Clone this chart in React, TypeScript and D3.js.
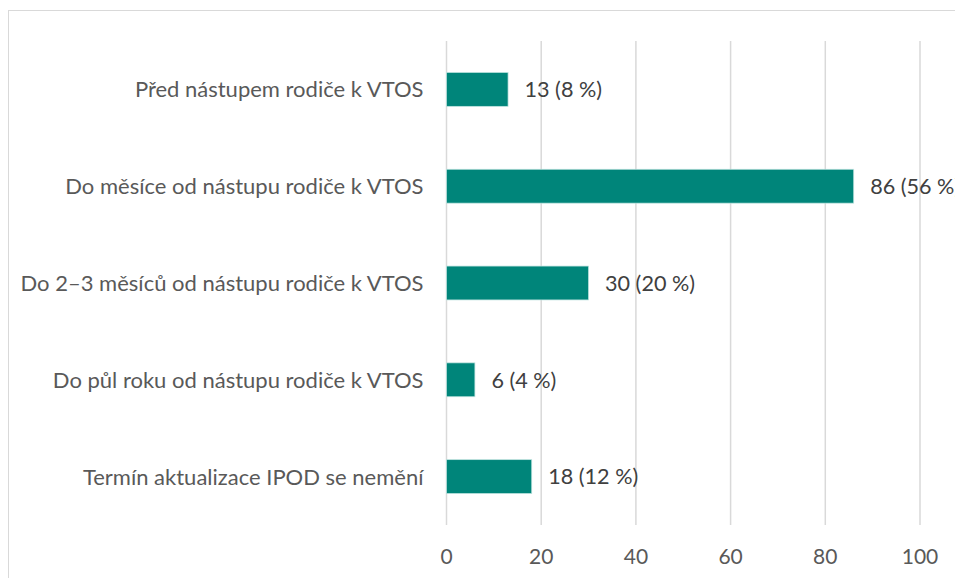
import * as d3 from "d3";
import { useEffect, useRef } from "react";

const categories = [
  "Před nástupem rodiče k VTOS",
  "Do měsíce od nástupu rodiče k VTOS",
  "Do 2–3 měsíců od nástupu rodiče k VTOS",
  "Do půl roku od nástupu rodiče k VTOS",
  "Termín aktualizace IPOD se nemění",
];
const counts = [13, 86, 30, 6, 18];
const shares = [8, 56, 20, 4, 12];
const ticks = [0, 20, 40, 60, 80, 100];

export default function App() {
  const ref = useRef<SVGSVGElement | null>(null);

  useEffect(() => {
    if (!ref.current) return;
    const root = d3.select(ref.current);
    root.selectAll("*").remove();
    const svg = root.append("g").attr("transform", "translate(8,8)");

    const font = "Lato, 'Open Sans', sans-serif";
    const textColor = "#595959";

    // frame (runs past the visible right/bottom edge, as in the crop)
    svg.append("rect")
      .attr("x", 0.5).attr("y", 2.5)
      .attr("width", 1000).attr("height", 700)
      .attr("fill", "white").attr("stroke", "#d9d9d9");

    const x = d3.scaleLinear().domain([0, 100]).range([438.5, 912]);
    const y = d3.scaleBand<string>().domain(categories).range([33, 517]).paddingInner(0.65).paddingOuter(0.325);

    // gridlines
    svg.append("g")
      .selectAll("line")
      .data(ticks)
      .join("line")
      .attr("x1", (d) => x(d)).attr("x2", (d) => x(d))
      .attr("y1", 33).attr("y2", 517)
      .attr("stroke", "#d9d9d9").attr("stroke-width", 1.5);

    // bars
    svg.append("g")
      .selectAll("rect")
      .data(counts)
      .join("rect")
      .attr("x", x(0))
      .attr("y", (_, i) => y(categories[i])!)
      .attr("width", (d) => x(d) - x(0))
      .attr("height", y.bandwidth())
      .attr("fill", "#00857a")
      .attr("stroke", "#bfe3df").attr("stroke-width", 0.75);

    // value labels
    svg.append("g")
      .selectAll("text")
      .data(counts)
      .join("text")
      .attr("x", (d) => x(d) + 16.5)
      .attr("y", (_, i) => y(categories[i])! + y.bandwidth() / 2)
      .attr("dy", "0.36em")
      .attr("font-family", font).attr("font-size", 21.6)
      .attr("fill", "#404040")
      .text((d, i) => `${d} (${shares[i]} %)`);

    // category labels
    svg.append("g")
      .selectAll("text")
      .data(categories)
      .join("text")
      .attr("x", x(0) - 23)
      .attr("y", (d) => y(d)! + y.bandwidth() / 2)
      .attr("dy", "0.36em")
      .attr("text-anchor", "end")
      .attr("font-family", font).attr("font-size", 22)
      .attr("fill", textColor)
      .text((d) => d);

    // x tick labels
    svg.append("g")
      .selectAll("text")
      .data(ticks)
      .join("text")
      .attr("x", (d) => x(d))
      .attr("y", 548)
      .attr("dy", "0.36em")
      .attr("text-anchor", "middle")
      .attr("font-family", font).attr("font-size", 21)
      .attr("fill", textColor)
      .text((d) => d3.format("d")(d));
  }, []);

  return (
    <div style={{ position: "fixed", left: 0, top: 0, width: 955, height: 578, overflow: "hidden" }}>
      <svg ref={ref} width={955} height={578} style={{ display: "block" }}></svg>
    </div>
  );
}
